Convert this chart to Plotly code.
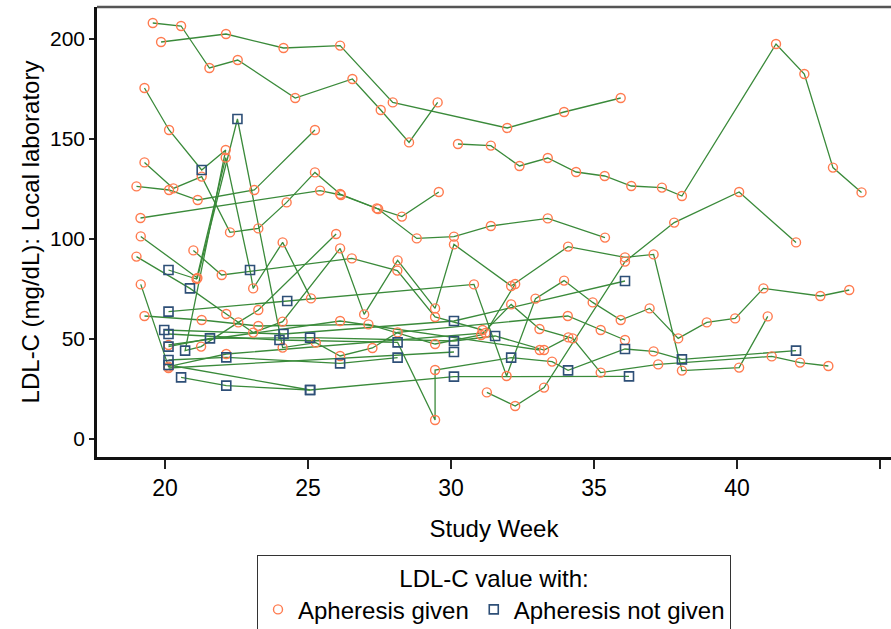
import plotly.graph_objects as go

# ---- data: one patient per triple of lists (study week, LDL-C, apheresis given 1/0) ----
p01_week = [19.86, 22.13, 24.14, 26.12, 27.96, 31.96, 33.95, 35.93]
p01_ldl = [198.5, 202.5, 195.5, 196.7, 168.3, 155.5, 163.5, 170.5]
p01_given = [1, 1, 1, 1, 1, 1, 1, 1]

p02_week = [19.57, 20.56, 21.55, 22.54, 24.55, 26.55, 27.54, 28.53, 29.53]
p02_ldl = [208, 206.5, 185.5, 189.5, 170.5, 180, 164.5, 148.3, 168.3]
p02_given = [1, 1, 1, 1, 1, 1, 1, 1, 1]

p03_week = [30.24, 31.39, 32.39, 33.38, 34.37, 35.37, 36.3, 37.37, 38.07, 41.36, 42.35, 43.35, 44.35]
p03_ldl = [147.5, 146.7, 136.5, 140.5, 133.5, 131.5, 126.5, 125.7, 121.5, 197.5, 182.5, 135.7, 123.3]
p03_given = [1] * 13

p04_week = [19.0, 20.14, 21.14, 23.12, 25.24]
p04_ldl = [126.3, 124.5, 119.5, 124.5, 154.5]
p04_given = [1, 1, 1, 1, 1]

p05_week = [19.28, 20.29, 21.28, 22.27, 23.26, 24.25, 25.24, 26.12, 27.4, 28.28, 29.57]
p05_ldl = [138.3, 125.3, 131.2, 103.3, 105.3, 118.3, 133.3, 122.5, 115.3, 111.2, 123.5]
p05_given = [1] * 11

p06_week = [19.14, 25.42, 26.15, 27.45, 28.8, 30.1, 31.39, 33.38, 35.38]
p06_ldl = [110.5, 124.2, 122, 115, 100.3, 101.2, 106.5, 110.3, 100.7]
p06_given = [1] * 9

p07_week = [19.28, 20.14, 21.28, 22.12, 20.7, 21.26, 22.56, 23.26, 25.98]
p07_ldl = [175.5, 154.5, 134.5, 144.5, 44.2, 46.2, 58.3, 64.5, 102.5]
p07_given = [1, 1, 0, 1, 0, 1, 1, 1, 1]

p08_week = [19.0, 20.87, 22.14, 23.08, 24.11, 26.12, 26.96, 28.13, 29.44, 30.1, 32.1,
            34.09, 36.08, 37.08, 38.07, 40.07, 41.07]
p08_ldl = [91.2, 75.3, 62.5, 53.2, 58.7, 95.3, 62.3, 89.3, 65.3, 97.3, 76.5,
           96.2, 90.8, 92.3, 34.2, 35.7, 61.3]
p08_given = [1, 0, 1, 1, 1, 1, 1, 1, 1, 1, 1, 1, 1, 1, 1, 1, 1]

p09_week = [20.56, 22.14, 25.07, 30.1, 36.22]
p09_ldl = [30.8, 26.7, 24.5, 31.2, 31.3]
p09_given = [0, 0, 0, 0, 0]

p10_week = [19.97, 24.14, 30.1, 36.08]
p10_ldl = [54.5, 52.5, 59, 79]
p10_given = [0, 0, 0, 0]

p11_week = [19.15, 21.13, 22.53, 24.11, 25.27, 26.12, 27.25, 28.13, 34.08, 35.23, 36.08]
p11_ldl = [101.3, 80.5, 160, 45.7, 48.2, 41.5, 45.5, 53.3, 61.5, 54.5, 49.5]
p11_given = [1, 1, 0, 1, 1, 1, 1, 1, 1, 1, 1]

p12_week = [20.12, 24.27, 30.8, 31.94, 32.95, 33.95, 34.95, 35.93, 36.94, 37.94,
            38.94, 39.93, 40.92, 42.91, 43.92]
p12_ldl = [63.7, 69, 77.3, 31.5, 70.2, 79.2, 68.3, 59.5, 65.3, 50.3,
           58.3, 60.3, 75.3, 71.5, 74.5]
p12_given = [0, 0, 1, 1, 1, 1, 1, 1, 1, 1, 1, 1, 1, 1, 1]

p13_week = [20.12, 21.1, 22.12, 22.97, 23.08, 24.11, 25.1]
p13_ldl = [84.5, 80, 140.7, 84.5, 75.3, 98.3, 70.3]
p13_given = [0, 1, 1, 0, 1, 1, 1]

p14_week = [31.25, 32.24, 33.25, 36.08, 37.8, 40.07, 42.06]
p14_ldl = [23.3, 16.5, 25.7, 88.7, 108.2, 123.5, 98.3]
p14_given = [1, 1, 1, 1, 1, 1, 1]

p15_week = [20.12, 24.0, 28.13, 29.44, 29.44, 32.1, 33.53, 34.09, 36.08, 37.08, 38.07, 42.06]
p15_ldl = [52.5, 49.5, 48.3, 9.5, 34.5, 40.7, 38.7, 34.3, 45, 43.8, 39.8, 44.2]
p15_given = [0, 0, 0, 1, 1, 0, 1, 0, 0, 1, 0, 0]

p16_week = [19.28, 21.28, 23.26, 27.11, 29.44, 31.05, 32.1, 33.09, 34.25, 35.23,
            37.24, 41.21, 42.2, 43.19]
p16_ldl = [61.5, 59.5, 56.5, 57.3, 47.5, 52, 67.3, 55, 50.3, 33.2,
           37.3, 41.3, 38.2, 36.5]
p16_given = [1] * 14

p17_week = [19.15, 20.12, 22.14, 31.2, 32.24]
p17_ldl = [77.3, 36.2, 42.5, 53, 77.5]
p17_given = [1, 1, 1, 1, 1]

p18_week = [20.99, 21.98, 26.53, 28.12, 29.44, 31.1]
p18_ldl = [94.3, 82, 90.3, 84.2, 61, 54.5]
p18_given = [1, 1, 1, 1, 1, 1]

p19_week = [20.12, 21.57, 25.07, 30.1, 31.54, 33.25, 34.1]
p19_ldl = [46.2, 50.3, 50.7, 49, 51.5, 44.5, 50.8]
p19_given = [0, 0, 0, 0, 0, 1, 1]

p20_week = [20.12, 22.14, 26.12, 28.13]
p20_ldl = [39.5, 40.8, 37.8, 40.7]
p20_given = [0, 0, 0, 0]

p21_week = [20.12, 30.1]
p21_ldl = [35.5, 43.5]
p21_given = [1, 0]

p22_week = [20.12, 25.07]
p22_ldl = [37, 24.5]
p22_given = [0, 0]

p23_week = [20.12, 26.12, 33.1]
p23_ldl = [47, 59, 44.5]
p23_given = [1, 1, 1]

patients = [
    (p01_week, p01_ldl, p01_given), (p02_week, p02_ldl, p02_given),
    (p03_week, p03_ldl, p03_given), (p04_week, p04_ldl, p04_given),
    (p05_week, p05_ldl, p05_given), (p06_week, p06_ldl, p06_given),
    (p07_week, p07_ldl, p07_given), (p08_week, p08_ldl, p08_given),
    (p09_week, p09_ldl, p09_given), (p10_week, p10_ldl, p10_given),
    (p11_week, p11_ldl, p11_given), (p12_week, p12_ldl, p12_given),
    (p13_week, p13_ldl, p13_given), (p14_week, p14_ldl, p14_given),
    (p15_week, p15_ldl, p15_given), (p16_week, p16_ldl, p16_given),
    (p17_week, p17_ldl, p17_given), (p18_week, p18_ldl, p18_given),
    (p19_week, p19_ldl, p19_given), (p20_week, p20_ldl, p20_given),
    (p21_week, p21_ldl, p21_given), (p22_week, p22_ldl, p22_given),
    (p23_week, p23_ldl, p23_given),
]

x_ticks = [20, 25, 30, 35, 40, 45]
y_ticks = [0, 50, 100, 150, 200]

LINE_COLOR = "#3a8a3a"
GIVEN_COLOR = "#ff7b4f"
NOTGIVEN_COLOR = "#2e4f77"
FONT = "Liberation Sans, Arial, sans-serif"

fig = go.Figure()

for wk, ldl, gv in patients:
    fig.add_trace(go.Scatter(x=wk, y=ldl, mode="lines",
                             line=dict(color=LINE_COLOR, width=1.3),
                             showlegend=False, hoverinfo="skip"))

gx, gy, nx, ny = [], [], [], []
for wk, ldl, gv in patients:
    for a, b, c in zip(wk, ldl, gv):
        if c:
            gx.append(a); gy.append(b)
        else:
            nx.append(a); ny.append(b)

fig.add_trace(go.Scatter(x=gx, y=gy, mode="markers", name="Apheresis given",
                         marker=dict(symbol="circle-open", size=9, color=GIVEN_COLOR,
                                     line=dict(width=1.4, color=GIVEN_COLOR))))
fig.add_trace(go.Scatter(x=nx, y=ny, mode="markers", name="Apheresis not given",
                         marker=dict(symbol="square-open", size=9, color=NOTGIVEN_COLOR,
                                     line=dict(width=1.6, color=NOTGIVEN_COLOR))))

# grey top frame line (the left and bottom axis lines are darker)
fig.add_shape(type="line", xref="paper", yref="paper", x0=0, x1=1, y0=1, y1=1,
              line=dict(color="#555", width=2.5))

fig.update_layout(
    width=891, height=629,
    margin=dict(l=97, r=0, t=7, b=172, autoexpand=False),
    plot_bgcolor="white", paper_bgcolor="white",
    font=dict(family=FONT, color="black", size=23),
    xaxis=dict(range=[17.62, 45.38], tickvals=x_ticks, ticktext=[str(t) for t in x_ticks],
               showgrid=False, zeroline=False, showline=True, linecolor="#111",
               linewidth=2.5, mirror=False, ticks="outside", ticklen=9, tickwidth=1.5,
               tickcolor="#222", tickfont=dict(size=23), ticklabelstandoff=0,
               automargin=False,
               title=dict(text="Study Week", font=dict(size=24), standoff=20)),
    yaxis=dict(range=[-9, 216], tickvals=y_ticks, ticktext=[str(t) for t in y_ticks],
               showgrid=False, zeroline=False, showline=True, linecolor="#111",
               linewidth=2.5, mirror=False, ticks="outside", ticklen=5, tickwidth=1.5,
               tickcolor="#222", tickfont=dict(size=21), automargin=False,
               title=dict(text="LDL-C (mg/dL): Local laboratory", font=dict(size=24),
                          standoff=4)),
    legend=dict(orientation="h", x=0.5, xanchor="center", y=-0.218, yanchor="top",
                bordercolor="#333", borderwidth=1, bgcolor="white",
                font=dict(size=24), itemwidth=30,
                title=dict(text="LDL-C value with:", side="top center",
                           font=dict(size=24))),
)

fig.write_html("out.html")
